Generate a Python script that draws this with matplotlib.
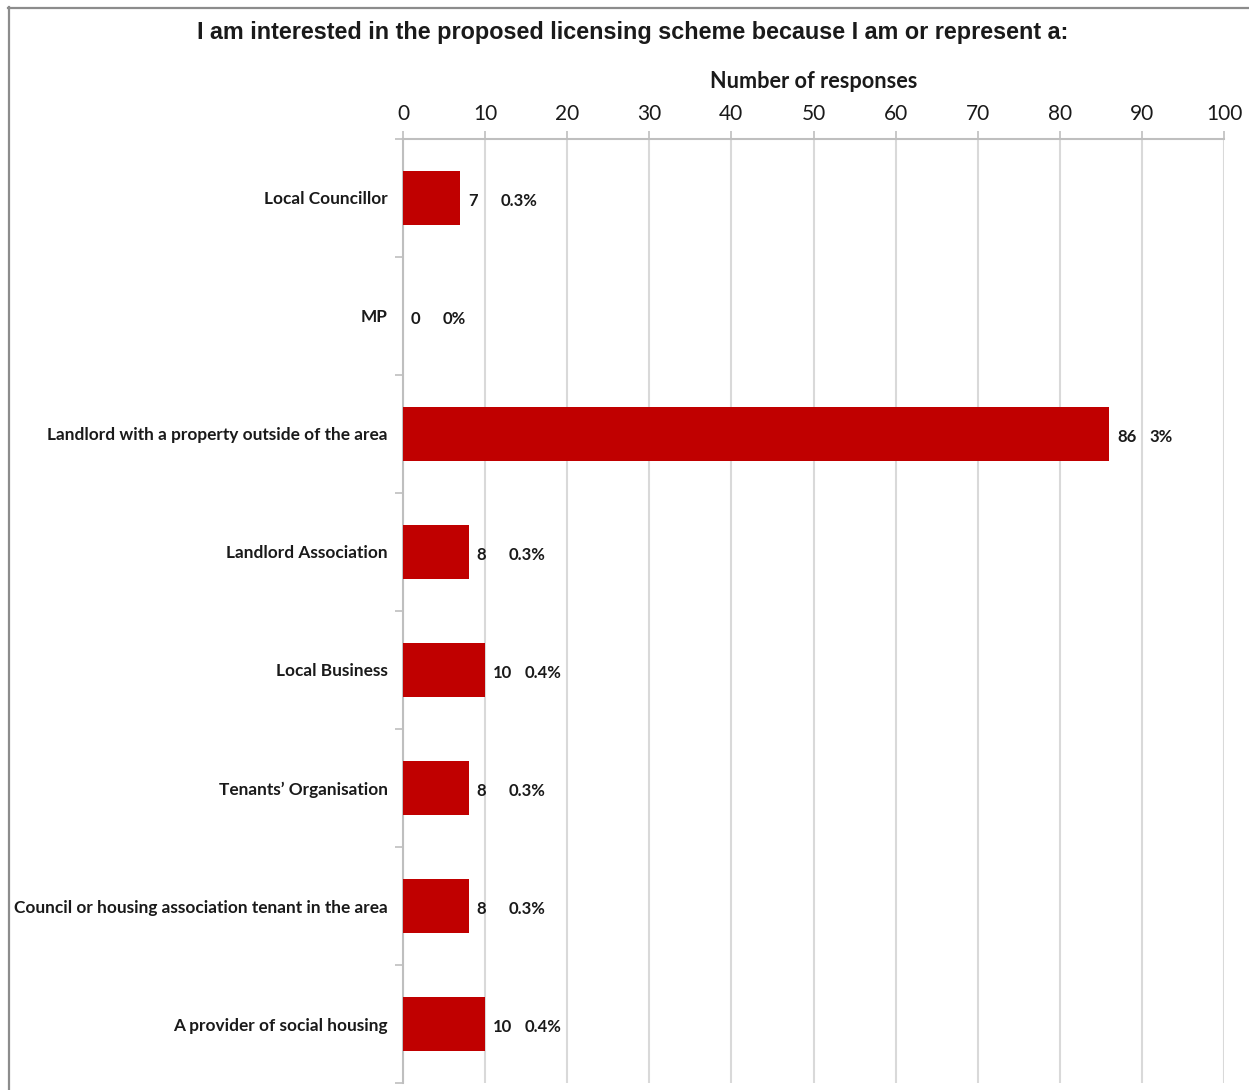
import matplotlib.pyplot as plt
import matplotlib.ticker as ticker
from matplotlib.lines import Line2D

# datos
categorias = ['Local Councillor', 'MP', 'Landlord with a property outside of the area',
              'Landlord Association', 'Local Business', "Tenants\u2019 Organisation",
              'Council or housing association tenant in the area', 'A provider of social housing']
respuestas = [7, 0, 86, 8, 10, 8, 8, 10]
porcentajes = ['0.3%', '0%', '3%', '0.3%', '0.4%', '0.3%', '0.3%', '0.4%']

fig = plt.figure(figsize=(12.49, 10.90), dpi=100, facecolor='white')
ax = fig.add_axes([403 / 1249, 7 / 1090, 821 / 1249, 944 / 1090])

gris = '#BFBFBF'
posiciones = list(range(len(categorias)))
ax.barh(posiciones, respuestas, height=0.46, color='#C00000', zorder=3)

# etiquetas de valor y porcentaje
for i, (v, p) in enumerate(zip(respuestas, porcentajes)):
    ax.annotate(str(v), xy=(v, i), xytext=(8, -3), textcoords='offset pixels',
                va='center', ha='left', fontsize=12, fontweight='bold',
                family='Lato', color='#1a1a1a')
    ax.annotate(p, xy=(v, i), xytext=(40, -3), textcoords='offset pixels',
                va='center', ha='left', fontsize=12, fontweight='bold',
                family='Lato', color='#1a1a1a')

ax.set_xlim(0, 100)
ax.set_ylim(len(categorias) - 0.5, -0.5)
ax.xaxis.set_major_locator(ticker.MultipleLocator(10))
ax.xaxis.tick_top()
ax.xaxis.set_label_position('top')
ax.set_xlabel('Number of responses', fontsize=15.6, fontweight='bold', family='Lato',
              color='#1a1a1a', labelpad=11)
ax.tick_params(axis='x', which='major', length=6, color=gris, width=1.2,
               labelsize=15, labelcolor='#1a1a1a', pad=5)
for lbl in ax.get_xticklabels():
    lbl.set_family('Lato')

ax.set_yticks(posiciones)
ax.set_yticklabels(categorias, fontsize=12.4, fontweight='bold', family='Lato', color='#1a1a1a')
ax.yaxis.set_minor_locator(ticker.FixedLocator([i + 0.5 for i in range(-1, len(categorias))]))
ax.tick_params(axis='y', which='major', length=0, pad=11)
ax.tick_params(axis='y', which='minor', length=6, color=gris, width=1.2)

ax.grid(True, axis='x', color='#D9D9D9', linewidth=1.5, zorder=0)
for lado in ['right', 'bottom']:
    ax.spines[lado].set_visible(False)
for lado in ['top', 'left']:
    ax.spines[lado].set_color(gris)
    ax.spines[lado].set_linewidth(1.5)

fig.text(633 / 1249, 1 - 33 / 1090, 'I am interested in the proposed licensing scheme because I am or represent a:',
         ha='center', va='center', fontsize=16.8, fontweight='bold',
         family='Liberation Sans', color='#1a1a1a')

# marco exterior
fig.add_artist(Line2D([8 / 1249, 1], [1 - 7.5 / 1090, 1 - 7.5 / 1090],
                      transform=fig.transFigure, color='#8C8C8C', linewidth=1.6))
fig.add_artist(Line2D([8.5 / 1249, 8.5 / 1249], [0, 1 - 7 / 1090],
                      transform=fig.transFigure, color='#8C8C8C', linewidth=1.6))

plt.savefig('out.png', dpi=100)
